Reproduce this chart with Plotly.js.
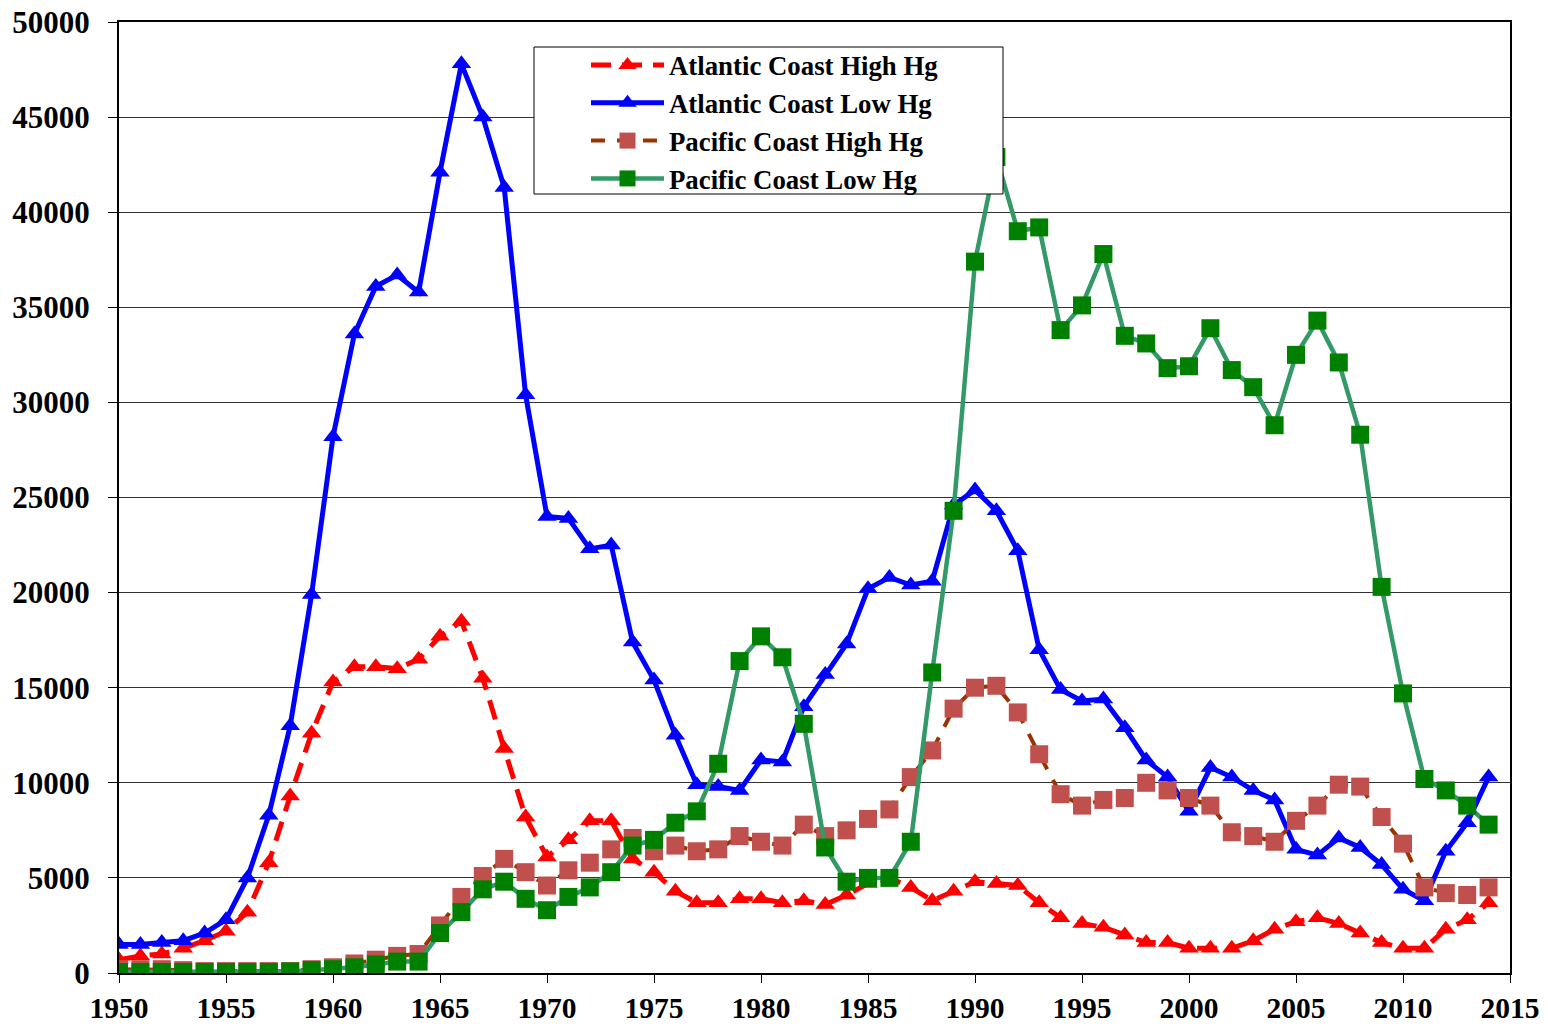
<!DOCTYPE html>
<html>
<head>
<meta charset="utf-8">
<script src="https://cdn.plot.ly/plotly-3.0.1.min.js"></script>
<style>html,body{margin:0;padding:0;background:#fff;}#chart{width:1548px;height:1027px;}</style>
</head>
<body>
<div id="chart"></div>
<script>
const years = [];
for (let y = 1950; y <= 2014; y++) years.push(y);

const atlanticHigh = [700,900,1000,1300,1700,2200,3200,5800,9300,12600,
  15300,16100,16100,16000,16500,17700,18500,15500,11800,8200,
  6100,7000,8000,8000,6000,5300,4300,3700,3700,3900,
  3900,3700,3800,3600,4100,4700,5000,4500,3800,4300,
  4800,4700,4600,3700,2900,2600,2400,2000,1600,1600,
  1300,1300,1300,1700,2300,2700,2900,2600,2100,1600,
  1300,1300,2300,2800,3700];

const atlanticLow = [1500,1500,1600,1700,2100,2800,5000,8300,13000,19900,
  28200,33600,36100,36700,35800,42100,47800,45000,41300,30400,
  24000,23900,22300,22500,17400,15400,12500,9900,9800,9600,
  11200,11100,14000,15700,17300,20200,20800,20400,20600,24600,
  25400,24300,22200,17000,14900,14300,14400,12900,11200,10300,
  8500,10800,10300,9600,9100,6500,6200,7100,6600,5700,
  4400,3800,6400,7900,10300];

const pacificHigh = [200,200,200,150,100,100,100,100,100,200,
  300,500,700,900,1000,2500,4000,5100,6000,5300,
  4600,5400,5800,6500,7100,6400,6700,6400,6500,7200,
  6900,6700,7800,7200,7500,8100,8600,10300,11700,13900,
  15000,15100,13700,11500,9400,8800,9100,9200,10000,9600,
  9200,8800,7400,7200,6900,8000,8800,9900,9800,8200,
  6800,4500,4200,4100,4500];

const pacificLow = [50,50,50,50,50,50,50,50,80,150,
  200,300,450,600,600,2100,3200,4400,4800,3900,
  3300,4000,4500,5300,6700,7000,7900,8500,11000,16400,
  17700,16600,13100,6600,4800,5000,5000,6900,15800,24300,
  37400,42900,39000,39200,33800,35100,37800,33500,33100,31800,
  31900,33900,31700,30800,28800,32500,34300,32100,28300,20300,
  14700,10200,9600,8800,7800];

const seriesNames = ["Atlantic Coast High Hg","Atlantic Coast Low Hg","Pacific Coast High Hg","Pacific Coast Low Hg"];

const fontFam = "Liberation Serif, Times New Roman, serif";

const traces = [
  {x: years, y: atlanticHigh, name: seriesNames[0], type: "scatter", mode: "lines+markers",
   line: {color: "#FF0000", width: 5, dash: "20px,11px"},
   marker: {symbol: "triangle-up", size: 17, color: "#FF0000"}},
  {x: years, y: atlanticLow, name: seriesNames[1], type: "scatter", mode: "lines+markers",
   line: {color: "#0000FF", width: 5},
   marker: {symbol: "triangle-up", size: 17, color: "#0000FF"}},
  {x: years, y: pacificHigh, name: seriesNames[2], type: "scatter", mode: "lines+markers",
   line: {color: "#993300", width: 4, dash: "14px,12px"},
   marker: {symbol: "square", size: 18, color: "#C0504D"}},
  {x: years, y: pacificLow, name: seriesNames[3], type: "scatter", mode: "lines+markers",
   line: {color: "#339966", width: 4.5},
   marker: {symbol: "square", size: 18, color: "#008000"}}
];

const layout = {
  width: 1548, height: 1027,
  margin: {l: 119, r: 38, t: 22, b: 54, pad: 0},
  paper_bgcolor: "#fff", plot_bgcolor: "#fff",
  font: {family: fontFam, size: 28, color: "#000", weight: "bold"},
  showlegend: true,
  legend: {
    x: (586-119)/1391, y: (973-41)/951, xanchor: "left", yanchor: "top",
    bgcolor: "rgba(0,0,0,0)", borderwidth: 0,
    font: {family: fontFam, size: 26.8, color: "#000", weight: "bold"},
    tracegroupgap: 0, itemwidth: 73
  },
  shapes: [{
    type: "rect", xref: "paper", yref: "paper",
    x0: (534-119)/1391, x1: (1003-119)/1391, y0: (973-194)/951, y1: (973-47)/951,
    line: {color: "#000", width: 1}, fillcolor: "#fff", layer: "above"
  }],
  xaxis: {
    range: [1950, 2015], dtick: 5, tick0: 1950, tickmode: "linear",
    showgrid: false, zeroline: false,
    showline: true, linecolor: "#000", linewidth: 2, mirror: true,
    ticks: "outside", ticklen: 8, tickwidth: 1, tickcolor: "#000",
    ticklabelstandoff: 0,
    tickfont: {family: fontFam, size: 29.5, color: "#000", weight: "bold"}
  },
  yaxis: {
    range: [0, 50000], dtick: 5000, tick0: 0, tickmode: "linear",
    showgrid: true, gridcolor: "#333", gridwidth: 1, zeroline: false,
    showline: true, linecolor: "#000", linewidth: 2, mirror: true,
    ticks: "outside", ticklen: 9, tickwidth: 1, tickcolor: "#000",
    ticklabelstandoff: 12,
    tickformat: "d",
    tickfont: {family: fontFam, size: 31, color: "#000", weight: "bold"}
  }
};

Plotly.newPlot("chart", traces, layout, {displayModeBar: false, staticPlot: true});
</script>
</body>
</html>
